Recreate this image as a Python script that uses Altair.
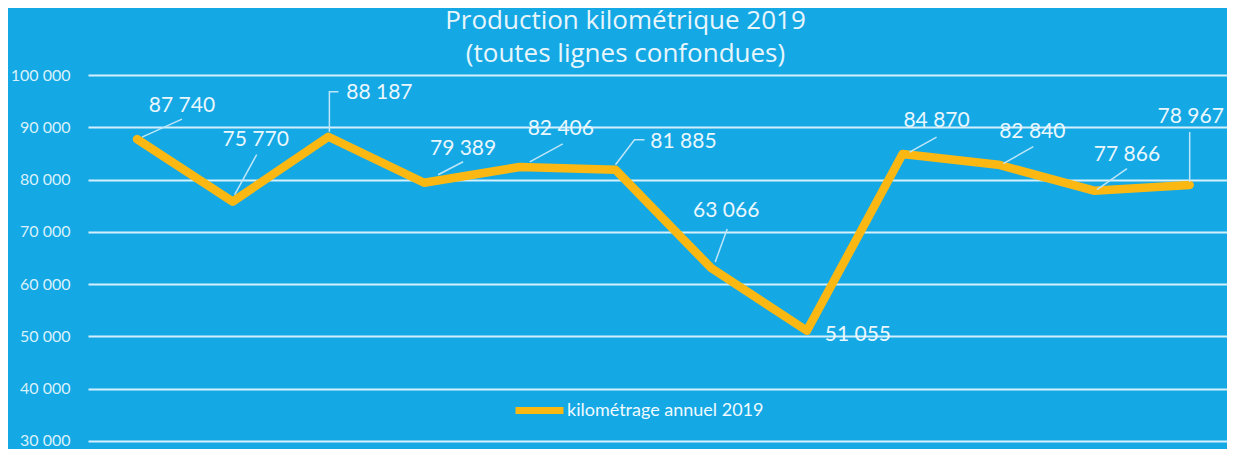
import altair as alt
import pandas as pd

# ---- data ----
months = list(range(1, 13))
values = [87740, 75770, 88187, 79389, 82406, 81885, 63066, 51055, 84870, 82840, 77866, 78967]
series_name = "kilométrage annuel 2019"
y_ticks = [30000, 40000, 50000, 60000, 70000, 80000, 90000, 100000]
title_lines = ["Production kilométrique 2019", "(toutes lignes confondues)"]

# label placement (pixel offsets from each point) and leader-line bends
label_dx = [45, 23, 51, 39, 41, 68, 15, 51, 34, 34, 33, 1]
label_dy = [-33, -62, -44, -34, -38, -28, -57, 4, -33, -33, -36, -68]
leaders = [
    [(5, -2), (45, -20)],
    [(2, -7), (24, -47)],
    [(1, -5), (1, -45), (10, -45)],
    [(14, -8), (39, -21)],
    [(10, -5), (43, -23)],
    [(0, -5), (19, -30), (29, -30)],
    [(4, -6), (16, -39)],
    [],
    [(7, -2), (34, -17)],
    [(5, -1), (35, -18)],
    [(3, -1), (33, -22)],
    [(0, -3), (0, -53)],
]

# ---- layout ----
W, H = 1139, 369
X_DOM = [0.488, 12.39]
Y_DOM = [29400, 100000]
pxm = W / (X_DOM[1] - X_DOM[0])
pxu = H / (Y_DOM[1] - Y_DOM[0])

BG = "#14a8e5"
LINE = "#fbb813"
TXT = "#eaf7fd"

df = pd.DataFrame({"month": months, "value": values, "series": series_name})

lab = pd.DataFrame({
    "month": months,
    "value": values,
    "lx": [m + dx / pxm for m, dx in zip(months, label_dx)],
    "ly": [v - dy / pxu for v, dy in zip(values, label_dy)],
})

rows = []
for m, v, segs in zip(months, values, leaders):
    for k, (dx, dy) in enumerate(segs):
        rows.append({"grp": m, "seq": k, "px": m + dx / pxm, "py": v - dy / pxu})
lead = pd.DataFrame(rows)

xs = alt.Scale(domain=X_DOM, nice=False, zero=False)
ys = alt.Scale(domain=Y_DOM, nice=False, zero=False)

fmt = "replace(format(datum.value, ','), ',', ' ')"

yaxis = alt.Axis(
    values=y_ticks, title=None, domain=False, ticks=False, grid=True,
    gridColor="#d3f0fc", gridWidth=2, labelFont="Lato", labelFontSize=16,
    labelColor="#d8f1fb", labelPadding=18, labelExpr=fmt,
    minExtent=80, maxExtent=80)

line = alt.Chart(df).mark_line(strokeWidth=8.5, strokeJoin="round", strokeCap="round").encode(
    x=alt.X("month:Q", scale=xs, axis=None),
    y=alt.Y("value:Q", scale=ys, axis=yaxis),
    color=alt.Color("series:N", scale=alt.Scale(range=[LINE]), legend=alt.Legend(
        title=None, orient="none", legendX=424, legendY=308, symbolType="stroke",
        symbolStrokeWidth=7, symbolSize=2300, labelFont="Lato", labelFontSize=18,
        labelColor="#f0faff", labelOffset=0, labelLimit=400)),
)

leader = alt.Chart(lead).mark_line(color="#bfe6f8", strokeWidth=1.5).encode(
    x=alt.X("px:Q", scale=xs, axis=None),
    y=alt.Y("py:Q", scale=ys, axis=yaxis),
    detail="grp:N",
    order="seq:Q",
)

text = alt.Chart(lab).transform_calculate(label=fmt).mark_text(
    font="Lato", fontSize=21, color=TXT, align="center", baseline="middle"
).encode(
    x=alt.X("lx:Q", scale=xs, axis=None),
    y=alt.Y("ly:Q", scale=ys, axis=yaxis),
    text="label:N",
)

chart = alt.layer(line, leader, text).properties(
    width=W, height=H,
    padding=0,
    title=alt.TitleParams(text=title_lines, font="Open Sans", fontSize=26, fontWeight="normal",
                          color="#e8f6fc", anchor="middle", dx=-32, offset=0, lineHeight=33),
).configure(background=BG).configure_view(strokeWidth=0)

chart.save("out.html", embed_options={"renderer": "svg", "actions": False})
